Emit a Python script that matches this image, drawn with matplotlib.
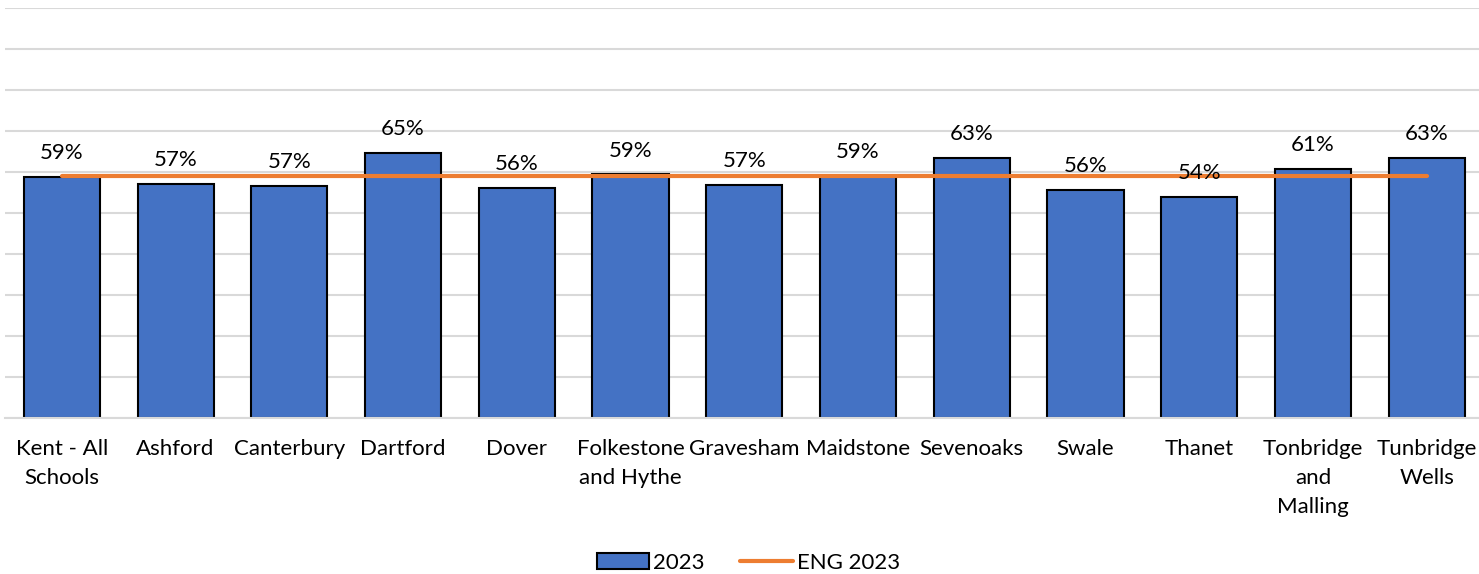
import matplotlib.pyplot as plt
import numpy as np

# districts and the share of pupils for 2023, England average as a flat line
districts = ["Kent - All\nSchools", "Ashford", "Canterbury", "Dartford", "Dover",
             "Folkestone\nand Hythe", "Gravesham", "Maidstone", "Sevenoaks", "Swale",
             "Thanet", "Tonbridge\nand\nMalling", "Tunbridge\nWells"]
pct_2023 = [58.8, 57.1, 56.6, 64.6, 56.1, 59.4, 56.8, 59.0, 63.4, 55.6, 53.9, 60.7, 63.4]
eng_2023 = [59.1] * len(districts)

plt.rcParams['font.family'] = ['Lato', 'DejaVu Sans']

fig = plt.figure(figsize=(14.79, 5.74), dpi=100)
ax = fig.add_axes([5 / 1479, 0.272, 1 - 5 / 1479, 0.714])

x = np.arange(len(districts))
bars = ax.bar(x, pct_2023, width=0.67, color='#4472C4', edgecolor='black',
              linewidth=1.5, label='2023', zorder=2)
ax.plot(x, eng_2023, color='#ED7D31', linewidth=3, label='ENG 2023', zorder=3,
        solid_capstyle='round')

# value labels above each bar
for xi, v in zip(x, pct_2023):
    ax.annotate(f"{v:.0f}%", (xi, v), xytext=(0, 10), textcoords='offset points',
                ha='center', va='bottom', fontsize=16, color='#000000', zorder=4)

ax.set_ylim(0, 100)
ax.set_xlim(-0.5, 12.46)
ax.set_yticks(np.arange(0, 101, 10))
ax.yaxis.grid(True, color='#d9d9d9', linewidth=1.5, zorder=0)
ax.set_axisbelow(True)
ax.tick_params(axis='y', left=False, labelleft=False)
ax.tick_params(axis='x', bottom=False, pad=12)
ax.set_xticks(x)
ax.set_xticklabels(districts, fontsize=16, linespacing=1.55)
for s in ['top', 'right', 'left']:
    ax.spines[s].set_visible(False)
ax.spines['bottom'].set_color('#d9d9d9')
ax.spines['bottom'].set_linewidth(1.5)

handles, labels = ax.get_legend_handles_labels()
order = [labels.index('2023'), labels.index('ENG 2023')]
fig.legend([handles[i] for i in order], [labels[i] for i in order],
           loc='center', bbox_to_anchor=(0.506, 0.02), ncol=2, frameon=False,
           fontsize=16, handlelength=2.35, handleheight=0.7, handletextpad=0.2,
           columnspacing=1.6)

fig.savefig('out.png', dpi=100)
